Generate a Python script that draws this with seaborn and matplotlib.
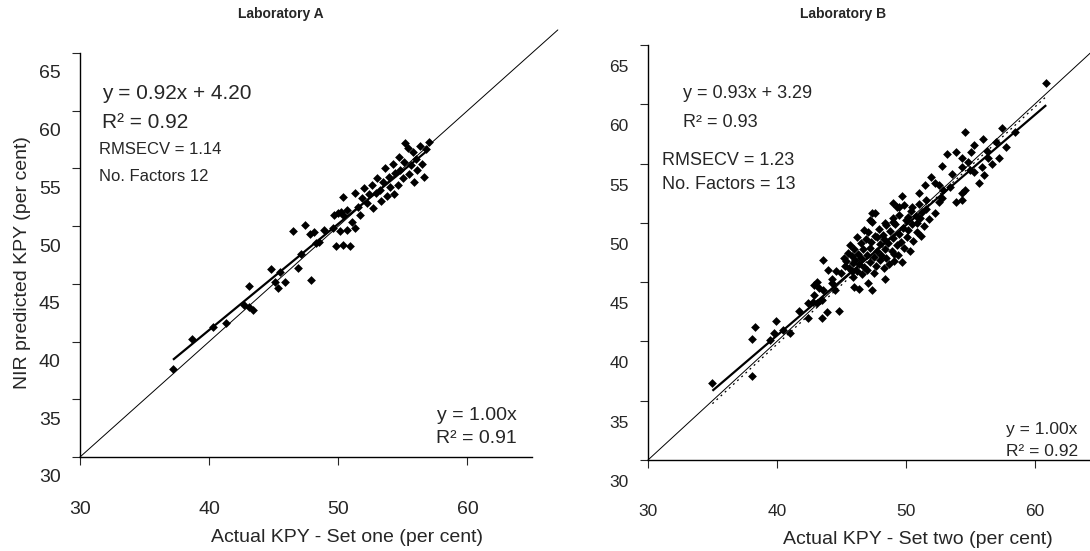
import numpy as np
import matplotlib
matplotlib.use("Agg")
import matplotlib.pyplot as plt
from matplotlib.transforms import ScaledTranslation
import seaborn as sns

sns.set_style("ticks")
plt.rcParams['font.family'] = ['Liberation Sans', 'DejaVu Sans']

# ---- data ----
lab_a_actual = [37.2, 38.7, 40.3, 41.3, 42.7, 43.1, 43.4, 43.1, 44.8, 45.1, 45.3, 45.5, 45.9,
                46.5, 46.9, 47.1, 47.4, 47.8, 47.9, 48.1, 48.3, 48.5, 48.9, 49.6, 49.7, 49.8,
                50.0, 50.1, 50.2, 50.4, 50.4, 50.4, 50.7, 50.7, 50.9, 51.1, 51.3, 51.3, 51.5,
                51.7, 51.8, 52.0, 52.2, 52.4, 52.6, 52.7, 52.9, 53.0, 53.2, 53.3, 53.5, 53.6,
                53.8, 53.9, 54.0, 54.2, 54.3, 54.4, 54.6, 54.7, 54.8, 55.0, 55.1, 55.2, 55.4,
                55.5, 55.6, 55.8, 55.9, 56.0, 56.1, 56.3, 56.5, 56.6, 56.8, 57.0]
lab_a_pred = [37.6, 40.2, 41.3, 41.6, 43.2, 43.0, 42.7, 44.8, 46.3, 45.2, 44.6, 46.0, 45.2,
              49.6, 46.4, 47.6, 50.1, 49.3, 45.3, 49.5, 48.5, 48.6, 49.7, 49.8, 51.0, 48.3,
              51.1, 49.6, 51.2, 51.0, 52.5, 48.4, 51.4, 49.7, 48.3, 50.4, 49.8, 52.9, 51.7,
              51.0, 52.4, 53.3, 52.0, 52.8, 53.6, 51.6, 52.9, 54.2, 53.1, 52.2, 53.8, 55.0,
              52.6, 54.3, 53.4, 55.4, 52.8, 54.6, 53.6, 56.0, 54.9, 54.2, 55.6, 57.2, 56.8,
              54.5, 55.3, 56.4, 53.8, 55.8, 54.9, 56.9, 55.4, 54.3, 56.7, 57.3]

lab_b_actual = [35.0, 38.1, 38.1, 38.3, 39.5, 39.8, 39.9, 40.5, 41.0, 41.7, 42.4, 42.4, 42.8,
                42.9, 42.9, 43.1, 43.1, 43.3, 43.5, 43.5, 43.6, 43.6, 43.9, 44.0, 44.3, 44.3,
                44.5, 44.6, 44.8, 45.0, 45.3, 45.8, 45.9, 46.0, 46.4, 47.1, 47.4, 48.4, 49.1,
                49.7,
                45.2, 45.4, 45.5, 45.6, 45.7, 45.8, 45.9, 46.0, 46.1, 46.2, 46.2, 46.3, 46.4,
                46.5, 46.5, 46.6, 46.7, 46.8, 46.8, 46.9, 47.0, 47.0, 47.1, 47.2, 47.2, 47.3,
                47.4, 47.4, 47.5, 47.5, 47.6, 47.7, 47.8, 47.8, 47.9, 48.0, 48.0, 48.1, 48.2,
                48.3, 48.3, 48.4, 48.5, 48.5, 48.6, 48.7, 48.8, 48.9, 49.0, 49.0, 49.1, 49.2,
                49.3, 49.3, 49.4, 49.5, 49.6, 49.7, 49.8, 49.9, 50.0, 50.1, 50.2, 50.3, 50.4,
                50.5, 50.6, 50.8, 50.9, 51.0, 51.2, 51.3, 51.4, 51.6, 51.8,
                47.2, 47.6, 48.4, 49.0, 49.5, 50.2, 50.9, 51.1, 49.0, 49.5, 49.9, 50.5, 51.0,
                51.5, 51.6, 52.0, 52.3, 52.3, 52.6, 52.6, 52.8, 52.8, 52.9, 53.2, 53.4, 53.6,
                53.9, 53.9, 54.4, 54.4, 54.4, 54.4, 54.6, 54.6, 54.8, 55.0, 55.1, 55.3, 55.3,
                55.7, 55.9, 56.0, 56.1, 56.3, 56.4, 56.7, 57.0, 57.2, 57.5, 57.8, 58.5, 60.9]
lab_b_pred = [36.5, 37.1, 40.2, 41.2, 40.1, 40.7, 41.7, 41.0, 40.7, 42.6, 42.0, 43.2, 43.3,
              44.8, 43.9, 43.2, 45.0, 44.5, 42.0, 43.5, 46.9, 44.3, 42.5, 46.0, 45.3, 44.9,
              44.3, 45.9, 42.6, 45.8, 46.4, 45.9, 46.6, 44.6, 44.4, 44.9, 44.3, 45.3, 47.4,
              46.7,
              47.0, 46.8, 47.5, 46.2, 48.1, 47.2, 45.4, 47.8, 46.9, 48.8, 45.9, 47.4, 46.5,
              48.3, 47.0, 45.7, 47.8, 46.3, 49.4, 48.6, 47.3, 46.0, 49.2, 47.9, 46.7, 48.4,
              50.1, 50.8, 47.1, 45.8, 48.9, 46.4, 48.8, 47.6, 49.5, 46.9, 48.2, 47.3, 49.0,
              46.2, 48.6, 47.8, 49.8, 47.0, 48.3, 46.5, 49.3, 47.6, 48.7, 50.4, 46.8, 49.9,
              51.3, 48.1, 47.3, 49.1, 48.4, 52.3, 49.6, 47.9, 50.2, 48.8, 49.4, 47.6, 51.0,
              49.9, 48.5, 50.6, 49.2, 51.6, 48.9, 50.9, 49.7, 51.2, 50.3,
              50.2, 50.8, 50.0, 50.1, 50.7, 50.5, 50.0, 50.4, 51.7, 51.3, 51.5, 51.3, 52.5,
              53.2, 51.9, 53.9, 53.4, 50.8, 53.2, 51.8, 52.1, 54.8, 52.8, 55.8, 53.0, 54.1,
              56.0, 51.8, 55.5, 54.7, 52.5, 51.9, 57.7, 52.8, 55.1, 54.5, 56.0, 56.6, 54.3,
              53.4, 54.7, 57.1, 54.0, 56.1, 55.5, 55.0, 56.8, 55.5, 58.0, 56.4, 57.7, 61.8]

# fitted lines given on the chart
fit_a = (0.92, 4.20)
fit_b = (0.93, 3.29)
range_a = [37.2, 56.8]
range_b = [35.0, 60.9]
yticks = [30, 35, 40, 45, 50, 55, 60, 65]
xticks = [30, 40, 50, 60]

fig = plt.figure(figsize=(10.9, 5.51), dpi=100)
ax1 = fig.add_axes([80/1090, 1-457/551, 452/1090, 404/551])
ax2 = fig.add_axes([648/1090, 1-460/551, 442/1090, 415/551])


def panel(ax, xs, ys, fit, xr, xmax, fs, dy):
    sns.scatterplot(x=xs, y=ys, marker='D', color='black', s=20, linewidth=0, ax=ax)
    ident = np.array([30, 67])
    ax.plot(ident, ident, color='black', lw=0.7, clip_on=False)
    xr = np.array(xr)
    ax.plot(xr, fit[0]*xr + fit[1], color='black', lw=1.6, solid_capstyle='butt')
    ax.set_xlim(30, xmax)
    ax.set_ylim(30, 65)
    ax.set_xticks(xticks)
    ax.set_yticks(yticks)
    sns.despine(ax=ax)
    for s in ['left', 'bottom']:
        ax.spines[s].set_linewidth(1.0)
        ax.spines[s].set_color('black')
    ax.tick_params(axis='x', length=6, width=0.8, pad=26, labelsize=fs)
    ax.tick_params(axis='y', length=6, width=0.8, pad=8, labelsize=fs)
    off = ScaledTranslation(0, -dy/100, fig.dpi_scale_trans)
    for lab in ax.get_yticklabels():
        lab.set_transform(lab.get_transform() + off)


panel(ax1, lab_a_actual, lab_a_pred, fit_a, range_a, 65, 14, 19)
panel(ax2, lab_b_actual, lab_b_pred, fit_b, range_b, 64.3, 12.5, 21)
ax2.plot(np.array(range_b), np.array(range_b) - 0.25, color='black', lw=0.9, ls=(0, (1.5, 3)))

# annotations
ax1.text(31.7, 61.5, "y = 0.92x + 4.20", fontsize=15, va='center')
ax1.text(31.7, 59.0, "R² = 0.92", fontsize=15, va='center')
ax1.text(31.5, 56.6, "RMSECV = 1.14", fontsize=12, va='center')
ax1.text(31.5, 54.3, "No. Factors 12", fontsize=12, va='center')
ax1.text(63.85, 33.6, "y = 1.00x", fontsize=14, va='center', ha='right')
ax1.text(63.85, 31.6, "R² = 0.91", fontsize=14, va='center', ha='right')

ax2.text(32.7, 60.9, "y = 0.93x + 3.29", fontsize=13, va='center')
ax2.text(32.7, 58.5, "R² = 0.93", fontsize=13, va='center')
ax2.text(31.1, 55.3, "RMSECV = 1.23", fontsize=13, va='center')
ax2.text(31.1, 53.2, "No. Factors = 13", fontsize=13, va='center')
ax2.text(57.8, 32.6, "y = 1.00x", fontsize=12.5, va='center', clip_on=False)
ax2.text(57.8, 30.7, "R² = 0.92", fontsize=12.5, va='center', clip_on=False)

fig.text(281/1090, 1-14/551, "Laboratory A", fontsize=10, fontweight='bold', ha='center', va='center')
fig.text(843/1090, 1-14/551, "Laboratory B", fontsize=10, fontweight='bold', ha='center', va='center')
fig.text(347/1090, 1-538/551, "Actual KPY - Set one (per cent)", fontsize=14, ha='center', va='center')
fig.text(918/1090, 1-540/551, "Actual KPY - Set two (per cent)", fontsize=14, ha='center', va='center')
fig.text(23/1090, 1-263/551, "NIR predicted KPY (per cent)", fontsize=14, rotation=90,
         ha='center', va='center')

fig.savefig("out.png", dpi=100)
